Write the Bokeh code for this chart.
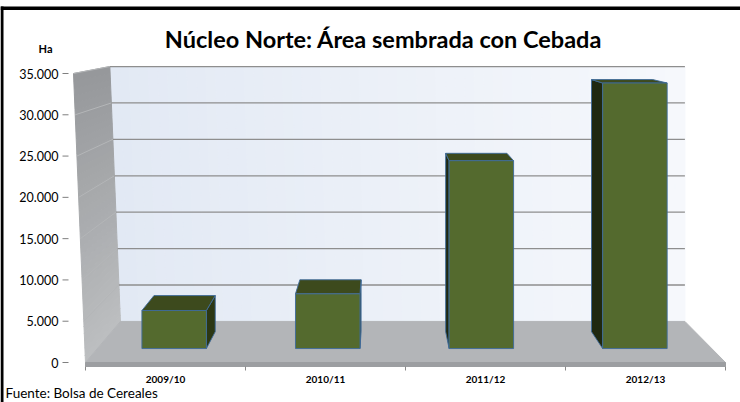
import numpy as np
from bokeh.plotting import figure
from bokeh.models import Range1d
from bokeh.core.properties import value
from bokeh.embed import file_html
from bokeh.resources import INLINE

# ---------------- data ----------------
chart_title = "Núcleo Norte: Área sembrada con Cebada"
categories = ["2009/10", "2010/11", "2011/12", "2012/13"]
area_ha = [4800, 6900, 23700, 33500]
y_ticks = [0, 5000, 10000, 15000, 20000, 25000, 30000, 35000]
y_tick_labels = ["0", "5.000", "10.000", "15.000", "20.000", "25.000", "30.000", "35.000"]
unit_label = "Ha"
source_note = "Fuente: Bolsa de Cereales"

# ---------------- layout (canvas pixels) ----------------
W, H = 740, 402
CAT_PX = 160.0                   # px per category on the front plane
X0_PX = 165.0                    # canvas x of first category centre
Y0_PX = 362.0                    # canvas y of value 0 (front plane)
YMAX_PX = 73.0                   # canvas y of axis maximum (front plane)
VMAX = y_ticks[-1]
K = (Y0_PX - YMAX_PX) / VMAX
FONT = value("Lato")


def px2x(px):
    return (px - X0_PX) / CAT_PX


def py2v(py):
    return (Y0_PX - py) / K


# perspective (vanishing point in front-plane data units)
VX, VV = px2x(381), py2v(14)
SHRINK = 0.118
X_LEFT, X_RIGHT = -0.5, len(categories) - 0.5
SKEW = 0.075
T0, T1 = 0.34, 0.75              # bar depth (0 = front, 1 = back wall)
HALF_W = 0.21
FLOOR_T = 4.0 / K


def proj(x, v, t):
    s = 1 - SHRINK * t
    return VX + s * (x - VX), VV + s * (v - VV)


def x_wall(v):
    return X_LEFT - SKEW * v / VMAX


def poly(pts):
    P = [proj(*pt) for pt in pts]
    return [q[0] for q in P], [q[1] for q in P]


def lerp_col(c1, c2, f):
    a = [int(c1[i:i + 2], 16) for i in (1, 3, 5)]
    b = [int(c2[i:i + 2], 16) for i in (1, 3, 5)]
    return "#%02x%02x%02x" % tuple(int(round(a[i] + (b[i] - a[i]) * f)) for i in range(3))


p = figure(width=W, height=H, x_range=Range1d(px2x(0), px2x(W)), y_range=Range1d(py2v(H), py2v(0)),
           output_backend="svg", toolbar_location=None,
           min_border=0, x_axis_location=None, y_axis_location=None)
p.xgrid.grid_line_color = None
p.ygrid.grid_line_color = None
p.outline_line_color = None
p.background_fill_color = "white"
p.border_fill_color = "white"

# ---- back wall (gradient strips) ----
xs, ys, cols = [], [], []
N = 60
for i in range(N):
    fa, fb = i / N, (i + 1) / N
    xb_a = x_wall(0) + (X_RIGHT - x_wall(0)) * fa
    xb_b = x_wall(0) + (X_RIGHT - x_wall(0)) * fb
    xt_a = x_wall(VMAX) + (X_RIGHT - x_wall(VMAX)) * fa
    xt_b = x_wall(VMAX) + (X_RIGHT - x_wall(VMAX)) * fb
    a, b = poly([(xb_a, 0, 1), (xb_b, 0, 1), (xt_b, VMAX, 1), (xt_a, VMAX, 1)])
    xs.append(a); ys.append(b)
    cols.append(lerp_col("#e2e9f4", "#f6f8fc", (i + 0.5) / N))
p.patches(xs, ys, fill_color=cols, line_color=cols, line_width=1)

# ---- side wall (gradient bands) ----
xs, ys, cols = [], [], []
M = 40
for j in range(M):
    v0, v1 = VMAX * j / M, VMAX * (j + 1) / M
    a, b = poly([(x_wall(v0), v0, 0), (x_wall(v0), v0, 1), (x_wall(v1), v1, 1), (x_wall(v1), v1, 0)])
    xs.append(a); ys.append(b)
    cols.append(lerp_col("#bcbec0", "#96989b", (j + 0.5) / M))
p.patches(xs, ys, fill_color=cols, line_color=cols, line_width=1)

# ---- gridlines ----
gx, gy, sx, sy = [], [], [], []
for v in y_ticks[1:]:
    a, b = poly([(x_wall(v), v, 1), (X_RIGHT, v, 1)])
    gx.append(a); gy.append(b)
    a, b = poly([(x_wall(v), v, 0), (x_wall(v), v, 1)])
    sx.append(a); sy.append(b)
p.multi_line(gx, gy, line_color="#8e8e8e", line_width=1.3)
p.multi_line(sx, sy, line_color="#b4b6b8", line_width=1)

# ---- floor ----
a, b = poly([(x_wall(0), 0, 0), (x_wall(0), 0, 1), (X_RIGHT, 0, 1), (X_RIGHT, 0, 0)])
p.patch(a, b, fill_color="#b3b5b8", line_color="#b3b5b8")
a, b = poly([(x_wall(0), 0, 0), (X_RIGHT, 0, 0), (X_RIGHT, -FLOOR_T, 0), (x_wall(0), -FLOOR_T, 0)])
p.patch(a, b, fill_color="#9c9ea1", line_color="#9c9ea1")

# ---- bars ----
for i, h in enumerate(area_ha):
    x0, x1 = i - HALF_W, i + HALF_W
    if i < VX:
        side = [(x1, 0, T0), (x1, 0, T1), (x1, h, T1), (x1, h, T0)]
        side_col = "#2c3713"
    else:
        side = [(x0, 0, T0), (x0, 0, T1), (x0, h, T1), (x0, h, T0)]
        side_col = "#1f2810"
    top = [(x0, h, T0), (x1, h, T0), (x1, h, T1), (x0, h, T1)]
    front = [(x0, 0, T0), (x1, 0, T0), (x1, h, T0), (x0, h, T0)]
    for pts, col in ((side, side_col), (top, "#3d4a1d"), (front, "#546a2e")):
        a, b = poly(pts)
        p.patch(a, b, fill_color=col, line_color="#3e6a9a", line_width=1, line_alpha=0.9)

# ---- value axis: ticks and labels ----
p.segment(x0=[px2x(62)] * len(y_ticks), y0=y_ticks, x1=[px2x(68)] * len(y_ticks), y1=y_ticks,
          line_color="#7f7f7f", line_width=1)
p.text(x=[px2x(58)] * len(y_ticks), y=y_ticks, text=y_tick_labels, text_align="right",
       text_baseline="middle", text_font=FONT, text_font_size="12.5px", text_color="black")

# ---- category axis: ticks and labels ----
cat_pos = list(range(len(categories)))
div_pos = [c - 0.5 for c in cat_pos] + [cat_pos[-1] + 0.5]
p.segment(x0=div_pos, y0=[py2v(366)] * len(div_pos), x1=div_pos, y1=[py2v(370)] * len(div_pos),
          line_color="#8a8a8a", line_width=1)
p.text(x=cat_pos, y=[py2v(378)] * len(cat_pos), text=categories, text_align="center",
       text_baseline="middle", text_font=FONT, text_font_style="bold", text_font_size="10px",
       text_color="black")

# ---- texts ----
p.text(x=[px2x(383)], y=[py2v(38)], text=[chart_title], text_align="center", text_baseline="middle",
       text_font=FONT, text_font_style="bold", text_font_size="23.5px", text_color="black")
p.text(x=[px2x(45)], y=[py2v(48)], text=[unit_label], text_align="center", text_baseline="middle",
       text_font=FONT, text_font_style="bold", text_font_size="11px", text_color="black")
p.text(x=[px2x(5)], y=[py2v(392)], text=[source_note], text_align="left", text_baseline="middle",
       text_font=FONT, text_font_size="13.5px", text_color="black")

# ---- chart border (top and left edges) ----
p.quad(left=[px2x(0), px2x(0)], right=[px2x(W), px2x(3)], top=[py2v(6), py2v(6)],
       bottom=[py2v(9.5), py2v(H)], fill_color="black", line_color=None)

open("out.html", "w").write(file_html(p, INLINE))
